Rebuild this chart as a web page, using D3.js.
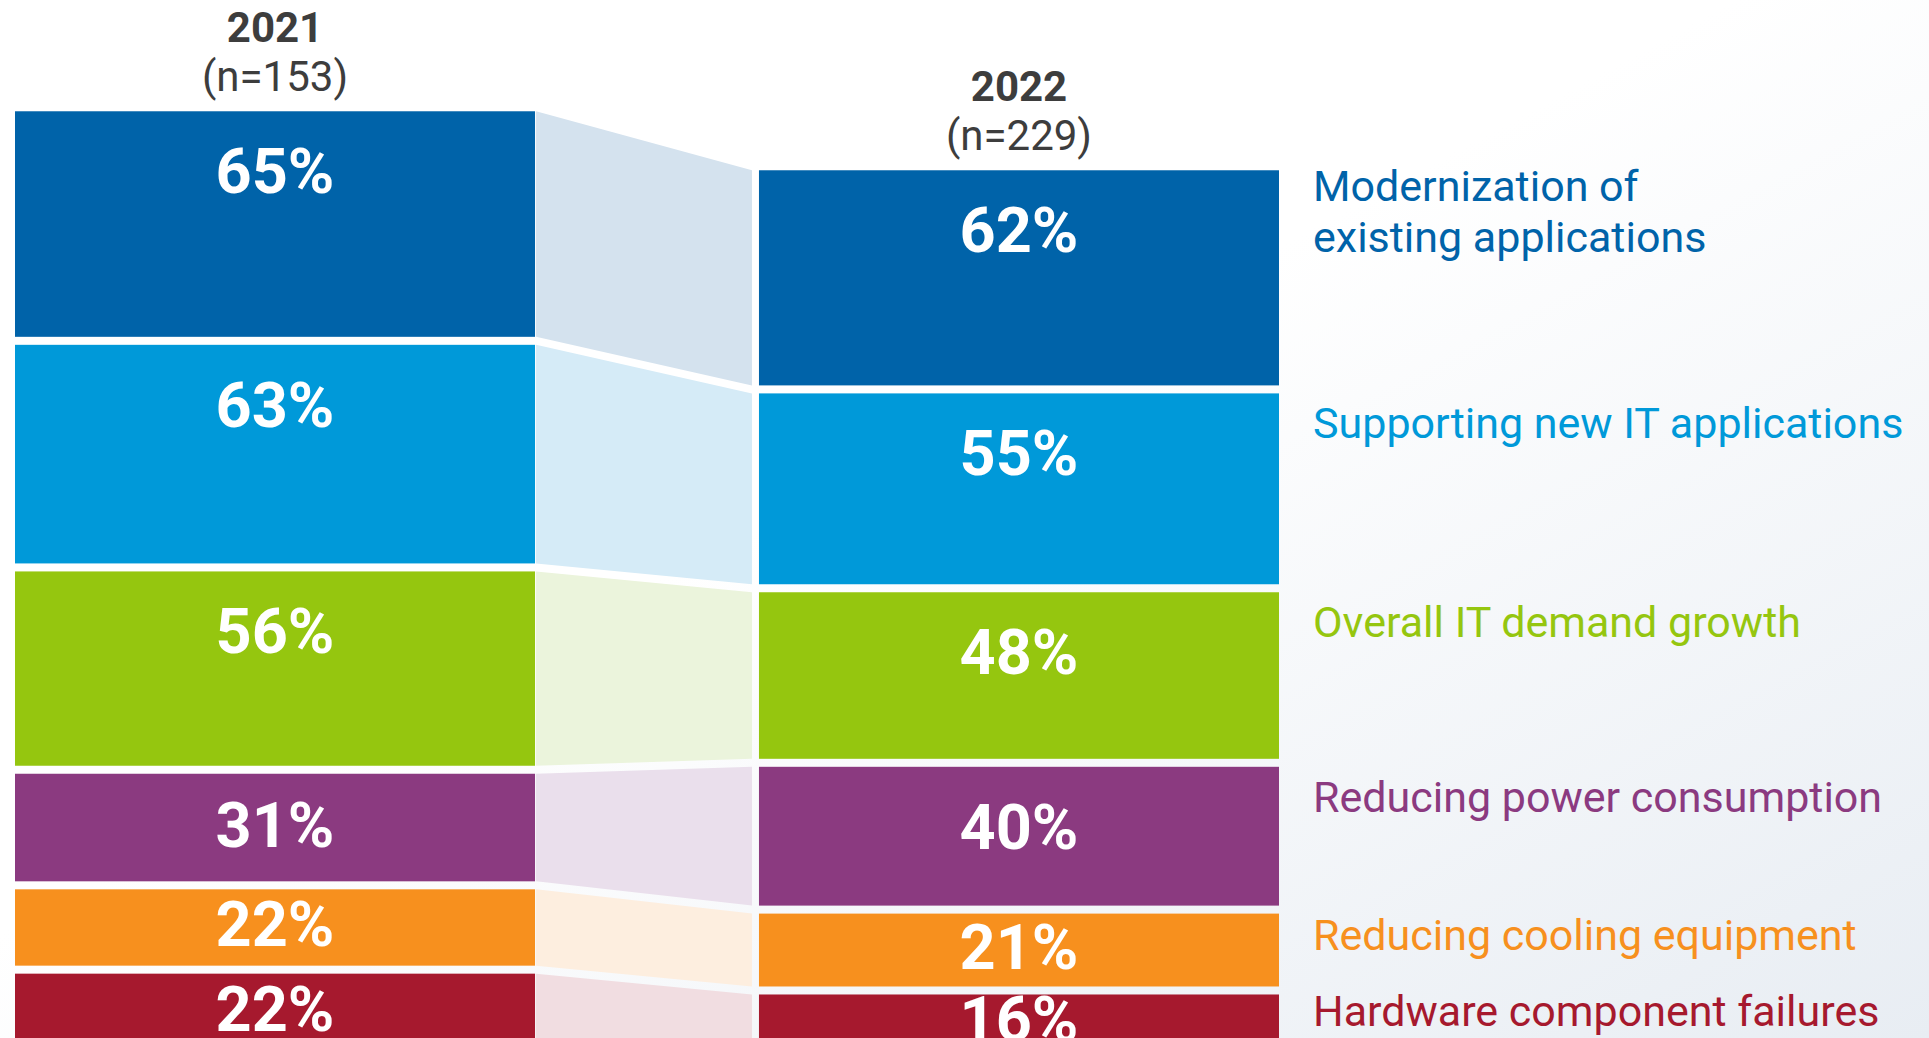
<!DOCTYPE html>
<html>
<head>
<meta charset="utf-8">
<script src="https://cdn.jsdelivr.net/npm/d3@7"></script>
<style>
  html, body { margin: 0; padding: 0; background: #ffffff; }
  svg { display: block; }
</style>
</head>
<body>
<div id="chart"></div>
<script>
// data
var years = ["2021", "2022"];
var sampleSizes = ["(n=153)", "(n=229)"];
var categories = [
    "Modernization of\nexisting applications",
    "Supporting new IT applications",
    "Overall IT demand growth",
    "Reducing power consumption",
    "Reducing cooling equipment",
    "Hardware component failures"
];
var values2021 = [65, 63, 56, 31, 22, 22];
var values2022 = [62, 55, 48, 40, 21, 16];

var barColors = ["#0063a9", "#0099d9", "#95c60f", "#8b3a80", "#f7901e", "#a6192e"];
var bandColors = ["#d4e2ee", "#d5ebf7", "#ebf4dc", "#eadfec", "#fdeedf", "#f1dde1"];

var width = 1929, height = 1038;
var baseline = 1050;   // stacks are bottom aligned, just below the visible area
var gap = 8;

var svg = d3.select("#chart")
    .append("svg")
    .attr("width", width)
    .attr("height", height);

// faint background wash at lower right
var defs = svg.append("defs");
var grad = defs.append("linearGradient")
    .attr("id", "bg")
    .attr("x1", "0").attr("y1", "0")
    .attr("x2", "1").attr("y2", "1");
grad.append("stop").attr("offset", "0.45").attr("stop-color", "#ffffff");
grad.append("stop").attr("offset", "1").attr("stop-color", "#e8edf3");
svg.append("rect")
    .attr("width", width)
    .attr("height", height)
    .attr("fill", "url(#bg)");

var x = d3.scaleBand()
    .domain(years)
    .range([15, 1279])
    .paddingInner(0.301);

var h = d3.scaleLinear()
    .domain([0, 100])
    .range([0, 347]);

// stack from the bottom with white gaps
function stack(values) {
    var out = [];
    var bottom = baseline;
    for (var i = values.length - 1; i >= 0; i--) {
        var top = bottom - h(values[i]);
        out[i] = { value: values[i], top: top, bottom: bottom, idx: i };
        bottom = top - gap;
    }
    return out;
}

var s2021 = stack(values2021);
var s2022 = stack(values2022);
var stacks = [s2021, s2022];

// connector bands between the two bars
var bandX0 = x("2021") + x.bandwidth() + 1;
var bandX1 = x("2022") - 7;
svg.selectAll(".band")
    .data(d3.range(categories.length))
    .enter()
    .append("path")
    .attr("class", "band")
    .attr("fill", function (i) { return bandColors[i]; })
    .attr("d", function (i) {
        var a = s2021[i], b = s2022[i];
        return "M" + bandX0 + "," + a.top +
            "L" + bandX1 + "," + b.top +
            "L" + bandX1 + "," + b.bottom +
            "L" + bandX0 + "," + a.bottom + "Z";
    });

// bars
stacks.forEach(function (st, k) {
    var g = svg.append("g");
    g.selectAll("rect")
        .data(st)
        .enter()
        .append("rect")
        .attr("x", x(years[k]))
        .attr("width", x.bandwidth())
        .attr("y", function (d) { return d.top; })
        .attr("height", function (d) { return d.bottom - d.top; })
        .attr("fill", function (d) { return barColors[d.idx]; });

    g.selectAll("text")
        .data(st)
        .enter()
        .append("text")
        .attr("x", x(years[k]) + x.bandwidth() / 2)
        .attr("y", function (d) {
            var hh = d.bottom - d.top;
            return d.top + Math.min(hh / 2, 63) + 19;
        })
        .attr("text-anchor", "middle")
        .attr("fill", "#ffffff")
        .style("font-family", "Roboto, sans-serif")
        .style("font-weight", 700)
        .style("font-size", "63px")
        .text(function (d) { return d.value + "%"; });

    // year heading
    svg.append("text")
        .attr("x", x(years[k]) + x.bandwidth() / 2)
        .attr("y", st[0].top - 69)
        .attr("text-anchor", "middle")
        .attr("fill", "#3d3d3d")
        .style("font-family", "Roboto, sans-serif")
        .style("font-weight", 700)
        .style("font-size", "42px")
        .text(years[k]);

    svg.append("text")
        .attr("x", x(years[k]) + x.bandwidth() / 2)
        .attr("y", st[0].top - 20)
        .attr("text-anchor", "middle")
        .attr("fill", "#3d3d3d")
        .style("font-family", "Roboto, sans-serif")
        .style("font-size", "42px")
        .text(sampleSizes[k]);
});

// category labels to the right of the 2022 bar
var labelX = x("2022") + x.bandwidth() + 34;
svg.selectAll(".cat")
    .data(s2022)
    .enter()
    .append("text")
    .attr("class", "cat")
    .attr("fill", function (d) { return barColors[d.idx]; })
    .style("font-family", "Roboto, sans-serif")
    .style("font-size", "43px")
    .each(function (d) {
        var lines = categories[d.idx].split("\n");
        var hh = d.bottom - d.top;
        var first = d.top + (lines.length > 1 ? 16 : Math.min(30, hh * 0.3)) + 15;
        var t = d3.select(this);
        lines.forEach(function (line, j) {
            t.append("tspan")
                .attr("x", labelX)
                .attr("y", first + j * 51)
                .text(line);
        });
    });
</script>
</body>
</html>
